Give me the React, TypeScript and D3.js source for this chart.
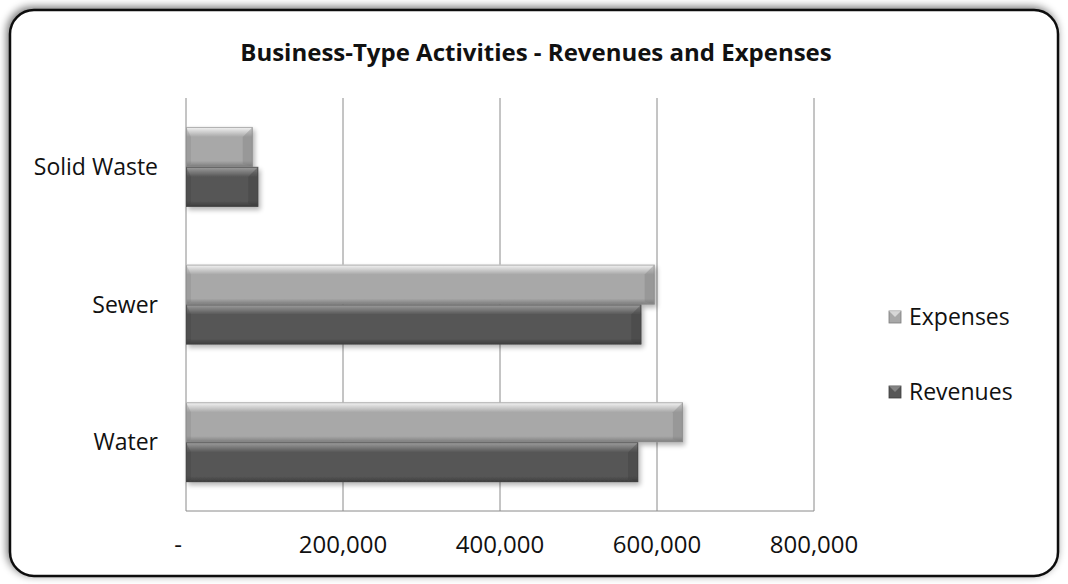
import * as React from "react";
import * as d3 from "d3";

const categories = ["Solid Waste", "Sewer", "Water"];
const seriesNames = ["Expenses", "Revenues"];
const expenses = [85000, 597000, 633000];
const revenues = [92000, 580000, 576000];
const xTickValues = [0, 200000, 400000, 600000, 800000];

const W = 1068;
const H = 584;
const margin = { left: 186, right: 254, top: 98, bottom: 73 };

const palette: Record<string, { face: string; light: string; dark: string; edge: string }> = {
  Expenses: { face: "#a8a8a8", light: "#f6f6f6", dark: "#7c7c7c", edge: "#8e8e8e" },
  Revenues: { face: "#575757", light: "#a0a0a0", dark: "#3c3c3c", edge: "#444" },
};

function BevelBar({ x, y, w, h, name }: { x: number; y: number; w: number; h: number; name: string }) {
  const c = palette[name];
  const b = Math.min(10, w / 2, h / 2);
  return (
    <g filter="url(#barShadow)">
      <rect x={x} y={y} width={w} height={h} fill={`url(#g-${name})`} />
      {/* right bevel */}
      <polygon
        points={`${x + w},${y} ${x + w},${y + h} ${x + w - b},${y + h - 3} ${x + w - b},${y + b}`}
        fill={c.dark}
        opacity={0.35}
      />
      {/* left bevel */}
      <polygon
        points={`${x},${y} ${x},${y + h} ${x + 5},${y + h - 3} ${x + 5},${y + b}`}
        fill={c.dark}
        opacity={0.25}
      />
      <rect x={x + 0.5} y={y + 0.5} width={w - 1} height={h - 1} fill="none" stroke={c.edge} strokeWidth={1} opacity={0.7} />
    </g>
  );
}

export default function App() {
  const innerW = W - margin.left - margin.right;
  const innerH = H - margin.top - margin.bottom;

  const xScale = d3.scaleLinear().domain([0, 800000]).range([0, innerW]);
  const yScale = d3
    .scaleBand<string>()
    .domain(categories)
    .range([0, innerH])
    .paddingInner(0.42)
    .paddingOuter(0.21);
  const sub = d3.scaleBand<string>().domain(seriesNames).range([0, yScale.bandwidth()]);

  const fmt = (v: number) => (v === 0 ? "-" : d3.format(",")(v));
  const values: Record<string, number[]> = { Expenses: expenses, Revenues: revenues };
  const font = "'Open Sans', 'DejaVu Sans', sans-serif";

  return (
    <svg width={W} height={H} style={{ position: "absolute", left: 0, top: 0 }} fontFamily={font}>
      <defs>
        <filter id="frameShadow" x="-5%" y="-5%" width="110%" height="110%">
          <feGaussianBlur in="SourceAlpha" stdDeviation="4" />
          <feOffset dx="-2" dy="-2" />
          <feComponentTransfer>
            <feFuncA type="linear" slope="0.55" />
          </feComponentTransfer>
          <feMerge>
            <feMergeNode />
            <feMergeNode in="SourceGraphic" />
          </feMerge>
        </filter>
        <filter id="barShadow" x="-5%" y="-20%" width="115%" height="150%">
          <feGaussianBlur in="SourceAlpha" stdDeviation="2.5" />
          <feOffset dx="2" dy="3" />
          <feComponentTransfer>
            <feFuncA type="linear" slope="0.3" />
          </feComponentTransfer>
          <feMerge>
            <feMergeNode />
            <feMergeNode in="SourceGraphic" />
          </feMerge>
        </filter>
        {seriesNames.map((n) => (
          <linearGradient key={n} id={`g-${n}`} x1="0" y1="0" x2="0" y2="1">
            <stop offset="0" stopColor={palette[n].light} />
            <stop offset="0.25" stopColor={palette[n].face} />
            <stop offset="0.85" stopColor={palette[n].face} />
            <stop offset="1" stopColor={palette[n].dark} />
          </linearGradient>
        ))}
      </defs>

      <rect
        x={10}
        y={10}
        width={W - 20}
        height={H - 18}
        rx={24}
        fill="white"
        stroke="#111"
        strokeWidth={2.5}
        filter="url(#frameShadow)"
      />

      <text x={536} y={61} textAnchor="middle" fontSize={24} fontWeight="bold" fill="#111">
        Business-Type Activities - Revenues and Expenses
      </text>

      <g transform={`translate(${margin.left},${margin.top})`}>
        {xTickValues.map((t) => (
          <line key={t} x1={xScale(t)} x2={xScale(t)} y1={0} y2={innerH} stroke="#8a8a8a" strokeWidth={1} />
        ))}
        <line x1={0} x2={innerW} y1={innerH} y2={innerH} stroke="#8a8a8a" />

        {categories.map((cat, i) =>
          seriesNames.map((n) => (
            <BevelBar
              key={cat + n}
              x={xScale(0)}
              y={(yScale(cat) ?? 0) + (sub(n) ?? 0)}
              w={xScale(values[n][i]) - xScale(0)}
              h={sub.bandwidth()}
              name={n}
            />
          ))
        )}

        {categories.map((cat) => (
          <text
            key={cat}
            x={-28}
            y={(yScale(cat) ?? 0) + yScale.bandwidth() / 2}
            dy="0.35em"
            textAnchor="end"
            fontSize={23}
            fill="#111"
          >
            {cat}
          </text>
        ))}

        {xTickValues.map((t) => (
          <text
            key={t}
            x={t === 0 ? xScale(t) - 8 : xScale(t)}
            y={innerH + 34}
            dy="0.35em"
            textAnchor="middle"
            fontSize={24}
            fill="#111"
          >
            {fmt(t)}
          </text>
        ))}
      </g>

      {seriesNames.map((n, i) => (
        <g key={n} transform={`translate(895,${317 + i * 75})`}>
          <rect x={-6} y={-6} width={12} height={12} fill={palette[n].face} stroke={palette[n].dark} strokeWidth={0.8} />
          <polygon points="-6,-6 6,-6 0,0" fill={palette[n].light} opacity={0.6} />
          <text x={14} y={0} dy="0.35em" fontSize={23} fill="#111">
            {n}
          </text>
        </g>
      ))}
    </svg>
  );
}
